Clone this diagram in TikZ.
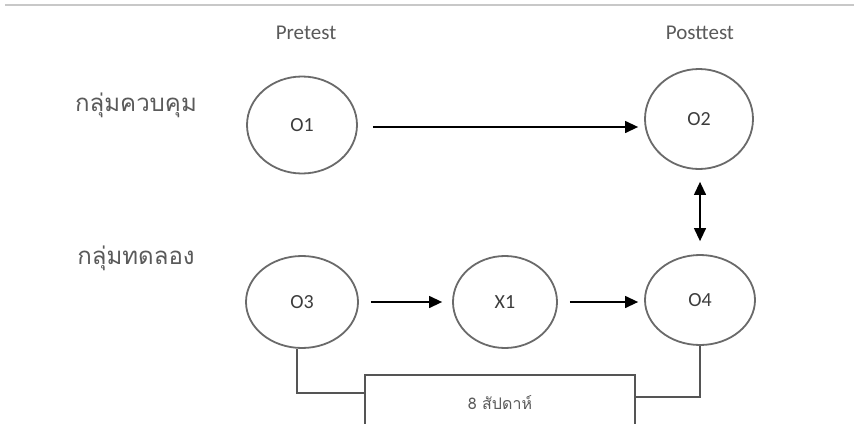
\documentclass[tikz,border=0pt]{standalone}
\usepackage{fontspec}
\setmainfont{Carlito}
\newfontfamily\thaifont[Script=Thai]{Loma}
\usetikzlibrary{arrows.meta,shapes.geometric,calc}

\definecolor{rulegray}{HTML}{C8C8C8}
\definecolor{circgray}{HTML}{6A6A6A}
\definecolor{textgray}{HTML}{5A5A5A}
\definecolor{darkgray}{HTML}{3C3C3C}
\definecolor{linegray}{HTML}{555555}

\tikzset{
  stage/.style={ellipse, draw=circgray, line width=1.8pt, inner sep=0pt,
    minimum width=110pt, minimum height=95pt,
    font=\fontsize{20}{20}\selectfont, text=darkgray},
  flow/.style={-{Triangle[length=13pt,width=12pt]}, line width=1.3pt, black},
  twoway/.style={{Triangle[length=13pt,width=12pt]}-{Triangle[length=13pt,width=12pt]}, line width=1.3pt, black},
  link/.style={draw=linegray, line width=1.5pt},
  phase/.style={font=\fontsize{21}{21}\selectfont, text=textgray},
  group/.style={font=\thaifont\fontsize{24}{24}\selectfont, text=textgray},
  periodbox/.style={draw=linegray, line width=1.5pt, fill=white,
    minimum width=270pt, minimum height=56pt, inner sep=0pt,
    font=\thaifont\fontsize{16}{16}\selectfont, text=textgray},
}

\begin{document}
\begin{tikzpicture}[x=1pt,y=-1pt]
  \useasboundingbox (0,0) rectangle (854,423);
  \clip (0,0) rectangle (854,423);
  \fill[white] (0,0) rectangle (854,423);
  \draw[rulegray, line width=2pt] (5,5) -- (854,5);

  % column headings
  \node[phase] (pre)  at (306,33) {Pretest};
  \node[phase] (post) at (700,33) {Posttest};

  % group labels
  \node[group] (ctrl) at (136,105) {กลุ่มควบคุม};
  \node[group] (expt) at (136,258) {กลุ่มทดลอง};

  % observations and treatment
  \node[stage, minimum width=110pt, minimum height=97pt] (O1) at (302,125) {O1};
  \node[stage, minimum width=108pt, minimum height=100pt] (O2) at (699,119) {O2};
  \node[stage, minimum width=112pt, minimum height=92pt] (O3) at (302,302) {O3};
  \node[stage, minimum width=104pt, minimum height=92pt] (X1) at (505,302) {X1};
  \node[stage, minimum width=110pt, minimum height=90pt] (O4) at (700,300) {O4};

  % duration box
  \node[periodbox] (weeks) at (500,403) {8 สัปดาห์};

  % arrows
  \draw[flow] ($(O1.east)+(15,2)$) -- ($(O2.west |- O1.east)+(-6,2)$);
  \draw[flow] ($(O3.east)+(12,0)$) -- ($(X1.west)+(-10,0)$);
  \draw[flow] ($(X1.east)+(12,0)$) -- ($(O4.west |- X1.east)+(-6,0)$);
  \draw[twoway] ($(O2.south)+(1,12)$) -- ($(O4.north)+(0,-13)$);

  % links to the duration box
  \draw[link] ($(O3.south)+(-5,0)$) |- ($(weeks.west)+(0,-10)$);
  \draw[link] (O4.south) |- ($(weeks.east)+(0,-6)$);
\end{tikzpicture}
\end{document}
